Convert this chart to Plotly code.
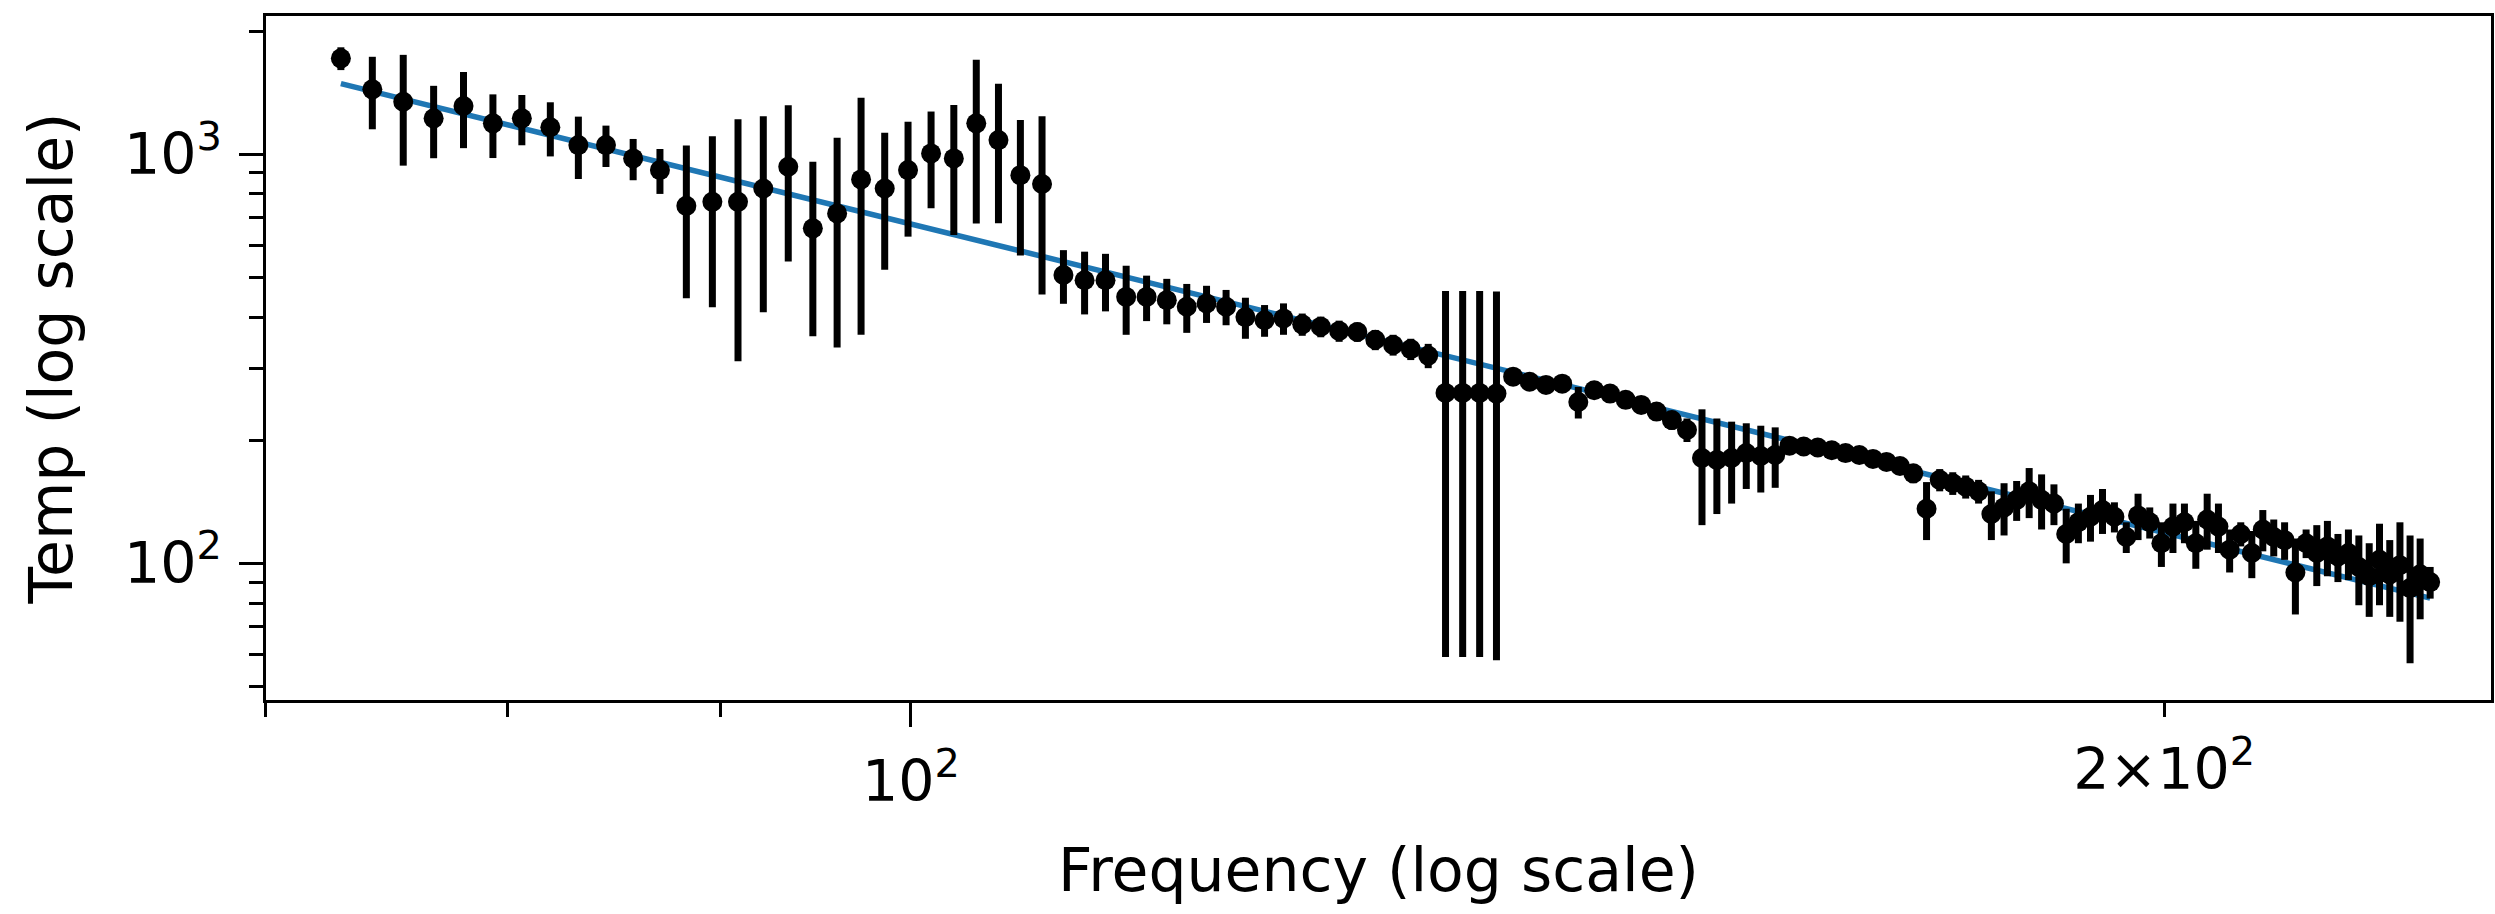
import plotly.graph_objects as go

# ---- data ----
freq_mhz = [
    72.96, 74.24, 75.52, 76.80, 78.08, 79.36, 80.64, 81.92, 83.20, 84.48,
    85.76, 87.04, 88.32, 89.60, 90.88, 92.16, 93.44, 94.72, 96.00, 97.28,
    98.56, 99.84, 101.12, 102.40, 103.68, 104.96, 106.24, 107.52, 108.80, 110.08,
    111.36, 112.64, 113.92, 115.20, 116.48, 117.76, 119.04, 120.32, 121.60, 122.88,
    124.16, 125.44, 126.72, 128.00, 129.28, 130.56, 131.84, 133.12, 134.40, 135.68,
    136.96, 138.24, 139.52, 140.80, 142.08, 143.36, 144.64, 145.92, 147.20, 148.48,
    149.76, 151.04, 152.32, 153.60, 154.88, 156.16, 157.44, 158.72, 160.00, 161.28,
    162.56, 163.84, 165.12, 166.40, 167.68, 168.96, 170.24, 171.52, 172.80, 174.08,
    175.36, 176.64, 177.92, 179.20, 180.48, 181.76, 183.04, 184.32, 185.60, 186.88,
    188.16, 189.44, 190.72, 192.00, 193.28, 194.56, 195.84, 197.12, 198.40, 199.68,
    200.96, 202.24, 203.52, 204.80, 206.08, 207.36, 208.64, 209.92, 211.20, 212.48,
    213.76, 215.04, 216.32, 217.60, 218.88, 220.16, 221.44, 222.72, 224.00, 225.28,
    226.56, 227.84, 229.12, 230.40, 231.68,
]

temp_k = [
    1716, 1441, 1344, 1224, 1312, 1190, 1224, 1164, 1053, 1053,
    977, 915, 748, 765, 765, 825, 932, 659, 717, 868,
    825, 915, 1005, 977, 1190, 1083, 889, 846, 507, 492,
    492, 448, 448, 440, 424, 432, 424, 400, 393, 397,
    384, 379, 370, 368, 352, 342, 334, 322, 261, 261,
    261, 260, 286, 278, 273, 275, 248, 265, 260, 251,
    244, 235, 224, 212, 181, 179, 181, 186, 183, 184,
    194, 193, 192, 189, 186, 184, 180, 177, 173, 166,
    136, 160, 157, 154, 150, 132, 137, 143, 150, 143,
    140, 118, 126, 130, 135, 130, 116, 131, 126, 112,
    123, 126, 112, 128, 123, 108, 118, 106, 121, 116,
    114, 95, 112, 106, 110, 104, 106, 98, 93, 102,
    94, 99, 87, 94, 90,
]

temp_err = [
    110, 290, 406, 246, 277, 211, 172, 176, 183, 122,
    113, 115, 303, 342, 453, 414, 385, 300, 380, 506,
    303, 286, 267, 342, 513, 405, 323, 392, 76, 86,
    79, 86, 57, 56, 58, 45, 42, 46, 35, 35,
    24, 22, 22, 20, 20, 20, 20, 22, 202, 202,
    202, 202, 12, 12, 12, 12, 22, 12, 12, 12,
    12, 12, 12, 14, 57, 47, 41, 34, 34, 31,
    8, 7, 7, 7, 7, 7, 7, 7, 8, 9,
    22, 10, 10, 10, 10, 18, 20, 16, 21, 22,
    16, 18, 14, 17, 17, 11, 10, 17, 11, 14,
    17, 14, 15, 20, 17, 13, 8, 14, 14, 12,
    12, 20, 9, 18, 17, 14, 15, 19, 19, 23,
    20, 27, 30, 21, 8,
]

# power-law fit line (straight in log-log), end points
fit_freq = [72.96, 231.68]
fit_temp = [1488, 82.2]

# axis ticks
x_major_vals = [100]
x_major_text = ["10<sup>2</sup>"]
x_minor_vals = [70, 80, 90, 200]
x_minor_label_vals = [200]
x_minor_label_text = ["2×10<sup>2</sup>"]
y_major_vals = [100, 1000]
y_major_text = ["10<sup>2</sup>", "10<sup>3</sup>"]
y_minor_vals = [50, 60, 70, 80, 90, 200, 300, 400, 500, 600, 700, 800, 900, 2000]

x_range_log = [1.8451, 2.3795]
y_range_log = [1.666, 3.338]

FONT = "DejaVu Sans"
tick_font = dict(family=FONT, size=57, color="black")
title_font = dict(family=FONT, size=60, color="black")

fig = go.Figure()

fig.add_trace(go.Scatter(
    x=fit_freq, y=fit_temp, mode="lines",
    line=dict(color="#1f77b4", width=5.5),
    showlegend=False, hoverinfo="skip",
))

fig.add_trace(go.Scatter(
    x=freq_mhz, y=temp_k, mode="markers",
    marker=dict(color="black", size=20),
    error_y=dict(type="data", array=temp_err, visible=True,
                 color="black", thickness=7, width=0),
    showlegend=False,
))

# empty trace on the overlaying axis that carries the minor-tick label
fig.add_trace(go.Scatter(x=[], y=[], xaxis="x2", yaxis="y",
                         showlegend=False, hoverinfo="skip"))

fig.update_layout(
    width=2495, height=914,
    margin=dict(l=266, r=4, t=16, b=214),
    paper_bgcolor="white", plot_bgcolor="white",
    xaxis=dict(
        type="log", range=x_range_log, autorange=False,
        tickmode="array", tickvals=x_major_vals, ticktext=x_major_text,
        ticks="outside", ticklen=24, tickwidth=2.5, tickcolor="black",
        tickfont=tick_font, ticklabelstandoff=6,
        showline=True, mirror=True, linecolor="black", linewidth=2.5,
        showgrid=False, zeroline=False, automargin=False,
        minor=dict(tickmode="array", tickvals=x_minor_vals, ticks="outside",
                   ticklen=14, tickwidth=2.5, tickcolor="black", showgrid=False),
        title=dict(text="Frequency (log scale)", font=title_font, standoff=36),
    ),
    xaxis2=dict(
        type="log", range=x_range_log, autorange=False, overlaying="x",
        anchor="y", side="bottom",
        tickmode="array", tickvals=x_minor_label_vals, ticktext=x_minor_label_text,
        ticks="outside", ticklen=14, tickwidth=2.5, tickcolor="black",
        tickfont=tick_font, ticklabelstandoff=6,
        showline=False, showgrid=False, zeroline=False, automargin=False,
    ),
    yaxis=dict(
        type="log", range=y_range_log, autorange=False,
        tickmode="array", tickvals=y_major_vals, ticktext=y_major_text,
        ticks="outside", ticklen=24, tickwidth=2.5, tickcolor="black",
        tickfont=tick_font, ticklabelstandoff=6,
        showline=True, mirror=True, linecolor="black", linewidth=2.5,
        showgrid=False, zeroline=False, automargin=False,
        minor=dict(tickmode="array", tickvals=y_minor_vals, ticks="outside",
                   ticklen=14, tickwidth=2.5, tickcolor="black", showgrid=False),
        title=dict(text="Temp (log scale)", font=title_font, standoff=32),
    ),
)

fig.write_html(
    "out.html",
    config={"displayModeBar": False},
    post_script="document.body.style.margin='0px';document.body.style.overflow='hidden';",
)
